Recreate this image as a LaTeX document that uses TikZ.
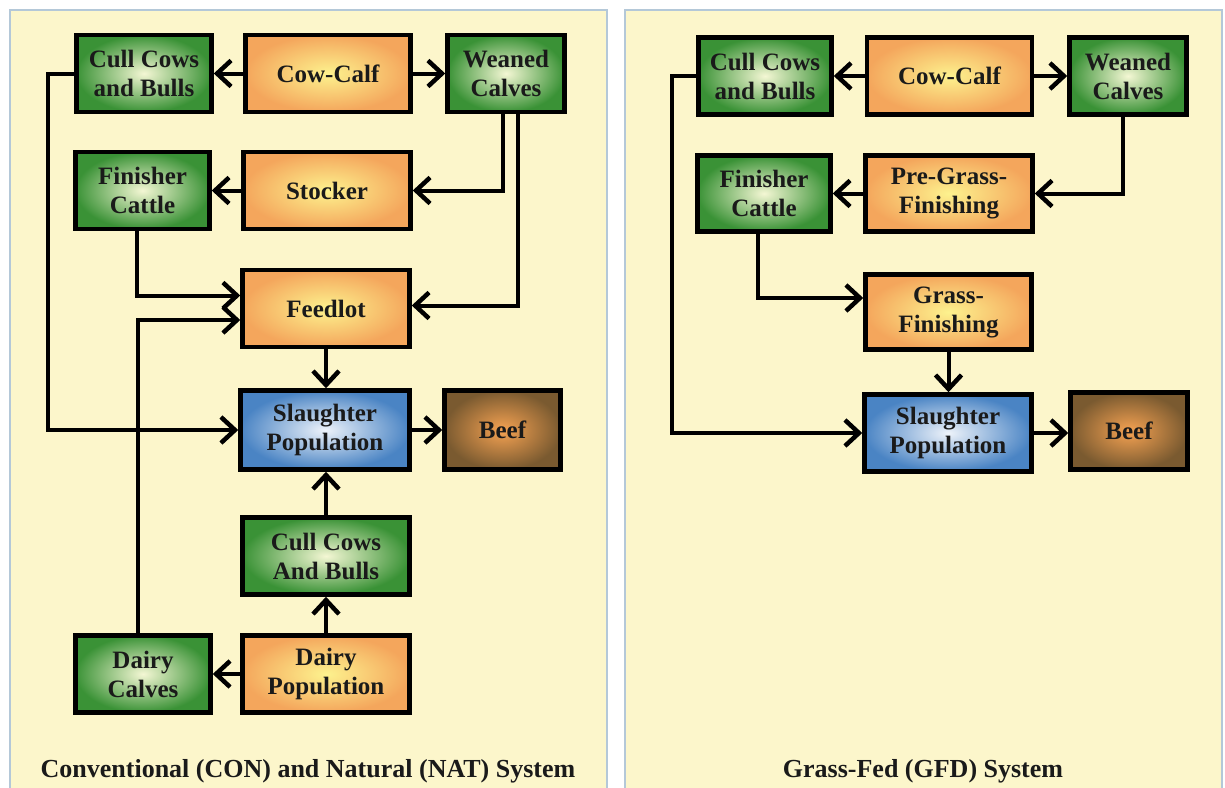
\documentclass[tikz,border=0pt]{standalone}
\usepackage{fontspec}
\setmainfont{Liberation Serif}
\usetikzlibrary{arrows.meta}
\definecolor{panelfill}{HTML}{FCF6CB}
\definecolor{panelline}{HTML}{B4C8D8}
\definecolor{gIn}{HTML}{F4F7D4}
\definecolor{gOut}{HTML}{3A9236}
\definecolor{oIn}{HTML}{FDF28E}
\definecolor{oOut}{HTML}{F4A65C}
\definecolor{bIn}{HTML}{EEF3FA}
\definecolor{bOut}{HTML}{4A84C4}
\definecolor{brIn}{HTML}{F5A252}
\definecolor{brOut}{HTML}{7A5A30}
\definecolor{txt}{HTML}{1A1A1A}
\newcommand\boxfont{\fontsize{25}{29}\selectfont\bfseries}
\newcommand\ttlfont{\fontsize{26}{30}\selectfont\bfseries}
\tikzset{
  box/.style={draw=black, line width=4.5pt, rectangle, minimum height=77pt,
    align=center, font=\boxfont, text=txt, inner sep=0pt},
  gbox/.style={box, inner color=gIn, outer color=gOut},
  obox/.style={box, inner color=oIn, outer color=oOut},
  bbox/.style={box, inner color=bIn, outer color=bOut},
  brbox/.style={box, inner color=brIn, outer color=brOut},
  arr/.style={line width=4pt, -{Straight Barb[length=14pt,width=26pt,line width=4.5pt]}},
  panel/.style={fill=panelfill, draw=panelline, line width=1.5pt},
  ttl/.style={anchor=base, font=\ttlfont, text=txt, inner sep=0pt}
}
\begin{document}
\begin{tikzpicture}[x=1pt,y=-1pt]
\useasboundingbox (0,0) rectangle (1225,787);
\clip (0,0) rectangle (1225,787);
\fill[white] (0,0) rectangle (1225,787);
\draw[panel] (10,10) rectangle (607,820);
\draw[panel] (625,10) rectangle (1222,820);

% ---------- left panel ----------
\node[gbox, minimum width=135pt] (cc1) at (144,73.5) {Cull Cows\\and Bulls};
\node[obox, minimum width=165pt] (cowcalf1) at (328,73.5) {Cow-Calf};
\node[gbox, minimum width=117pt] (wean1) at (506,73.5) {Weaned\\Calves};
\node[gbox, minimum width=134pt] (fin1) at (142.5,190.5) {Finisher\\Cattle};
\node[obox, minimum width=167pt] (stock1) at (327,190.5) {Stocker};
\node[obox, minimum width=167pt] (feed1) at (326,308.5) {Feedlot};
\node[bbox, minimum width=169pt, minimum height=79pt] (sl1) at (325,430) {Slaughter\\Population};
\node[brbox, minimum width=116pt, minimum height=79pt] (beef1) at (502.5,430) {Beef};
\node[gbox, minimum width=167pt] (cc2) at (326,556) {Cull Cows\\And Bulls};
\node[gbox, minimum width=135pt] (dc) at (143,674) {Dairy\\Calves};
\node[obox, minimum width=167pt] (dp) at (326,674) {Dairy\\Population};

\draw[arr] (cowcalf1) -- (cc1);
\draw[arr] (cowcalf1) -- (wean1);
\draw[arr] ([xshift=-3pt]wean1.south) |- (stock1.east);
\draw[arr] ([xshift=12pt]wean1.south) |- ([yshift=3pt]feed1.east);
\draw[arr] (stock1) -- (fin1);
\draw[arr] ([xshift=-5.5pt]fin1.south) |- ([yshift=13pt]feed1.west);
\draw[arr] ([xshift=-5pt]dc.north) |- ([yshift=-11.5pt]feed1.west);
\draw[arr] (cc1.west) -- ++(-26,0) |- (sl1.west);
\draw[arr] (feed1.south) -- (feed1.south |- sl1.north);
\draw[arr] (sl1) -- (beef1);
\draw[arr] (cc2.north) -- (cc2.north |- sl1.south);
\draw[arr] (dp) -- (cc2);
\draw[arr] (dp) -- (dc);

% ---------- right panel ----------
\node[gbox, minimum width=133pt] (cc3) at (765,76) {Cull Cows\\and Bulls};
\node[obox, minimum width=165pt] (cowcalf3) at (949.5,76) {Cow-Calf};
\node[gbox, minimum width=117pt] (wean3) at (1128,76) {Weaned\\Calves};
\node[gbox, minimum width=133pt, minimum height=76pt] (fin3) at (764,193.5) {Finisher\\Cattle};
\node[obox, minimum width=167pt, minimum height=76pt] (pre) at (949,193.5) {Pre-Grass-\\Finishing};
\node[obox, minimum width=166pt, minimum height=75pt] (grass) at (948.5,312) {Grass-\\Finishing};
\node[bbox, minimum width=167pt] (sl3) at (948,433) {Slaughter\\Population};
\node[brbox, minimum width=117pt] (beef3) at (1129,431) {Beef};

\draw[arr] (cowcalf3) -- (cc3);
\draw[arr] (cowcalf3) -- (wean3);
\draw[arr] ([xshift=-5pt]wean3.south) |- (pre.east);
\draw[arr] (pre) -- (fin3);
\draw[arr] ([xshift=-6pt]fin3.south) |- ([yshift=14pt]grass.west);
\draw[arr] (cc3.west) -- ++(-24,0) |- (sl3.west);
\draw[arr] (grass.south) -- (grass.south |- sl3.north);
\draw[arr] (sl3.east) -- (sl3.east -| beef3.west);

% ---------- titles ----------
\node[ttl] (t1) at (308,777) {Conventional (CON) and Natural (NAT) System};
\node[ttl] (t2) at (923,777) {Grass-Fed (GFD) System};
\end{tikzpicture}
\end{document}
